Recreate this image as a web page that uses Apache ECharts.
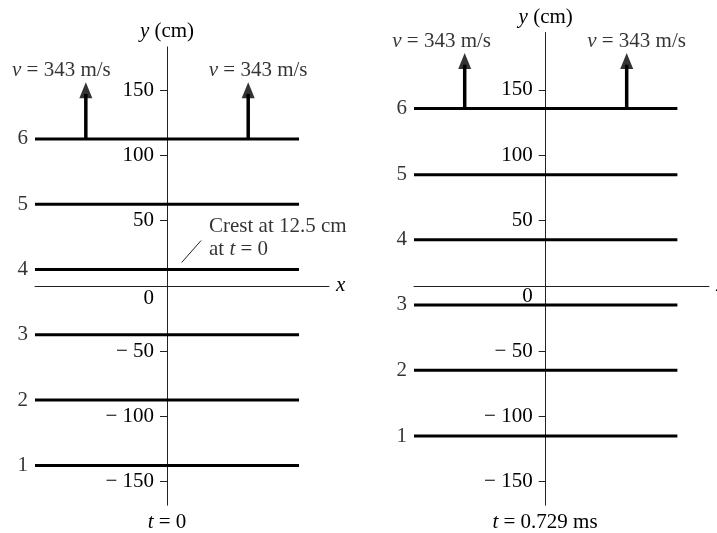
<!DOCTYPE html>
<html><head><meta charset="utf-8">
<script src="https://cdn.jsdelivr.net/npm/echarts@6/dist/echarts.min.js"></script>
<style>html,body{margin:0;padding:0;background:#fff}#c{width:717px;height:533px}</style>
</head><body><div id="c"></div>
<script>
// ---- data ----
const crestNames = ['1', '2', '3', '4', '5', '6'];
const crestY_t0 = [-137.5, -87.5, -37.5, 12.5, 62.5, 112.5];      // cm at t = 0
const crestY_t1 = [-115, -64.6, -14.6, 35.2, 85.1, 135.8];         // cm at t = 0.729 ms
const yTickValues = [-150, -100, -50, 0, 50, 100, 150];
const arrowX = [-0.615, 0.615];
const arrowTip_t0 = [156, 156];
const arrowTip_t1 = [178.3, 178.3];
const speedTextPos_t0 = [[-0.80, 164.8], [0.69, 164.8]];
const speedTextPos_t1 = [[-0.79, 187.2], [0.69, 187.2]];
const crestNote = ['Crest at 12.5 cm', 'at {i|t} = 0'];
const crestNotePos = [[0.318, 45.4], [0.318, 27.6]];
const crestLeader = [[0.111, 17.9], [0.258, 34.7]];
const panelTitles = ['{i|t} = 0', '{i|t} = 0.729 ms'];

// ---- style ----
const FONT = 'Liberation Serif';
const FS = 21;
const INK = '#000';
const rich = { i: { fontStyle: 'italic', fontFamily: FONT, fontSize: FS, color: INK } };
const HEAD_UNITS = 9;

function fmtTick(v) {
  if (v === 0) return '{z|0}';
  return v < 0 ? '\u2212 ' + Math.abs(v) : String(v);
}

function panelSeries(g, crestY, arrowTip, speedPos, withNote) {
  const s = [];
  crestY.forEach((y) => {
    s.push({ type: 'line', xAxisIndex: g, yAxisIndex: g, data: [[-1, y], [1, y]],
      showSymbol: false, symbol: 'none', lineStyle: { color: INK, width: 3 }, z: 3, silent: true });
  });
  s.push({ type: 'scatter', xAxisIndex: g, yAxisIndex: g, clip: false, symbolSize: 0,
    data: crestY.map((y, i) => ({ value: [-1, y], name: crestNames[i] })),
    label: { show: true, position: 'left', distance: 7, formatter: p => p.name,
      fontFamily: FONT, fontSize: FS, color: INK } });
  arrowX.forEach((x, i) => {
    s.push({ type: 'line', xAxisIndex: g, yAxisIndex: g,
      data: [[x, crestY[crestY.length - 1]], [x, arrowTip[i] - HEAD_UNITS]],
      showSymbol: false, symbol: 'none', lineStyle: { color: INK, width: 3.5, cap: 'butt' }, z: 4 });
  });
  s.push({ type: 'scatter', xAxisIndex: g, yAxisIndex: g, clip: false, symbol: 'triangle',
    symbolSize: [13, 16], symbolOffset: [0, '50%'], itemStyle: { color: INK }, z: 5,
    data: arrowX.map((x, i) => [x, arrowTip[i]]) });
  s.push({ type: 'scatter', xAxisIndex: g, yAxisIndex: g, clip: false, symbolSize: 0,
    data: speedPos.map(p => p),
    label: { show: true, position: 'inside', formatter: () => '{i|v} = 343 m/s', rich,
      fontFamily: FONT, fontSize: FS, color: INK } });
  if (withNote) {
    s.push({ type: 'line', xAxisIndex: g, yAxisIndex: g, data: crestLeader,
      showSymbol: false, symbol: 'none', lineStyle: { color: '#222', width: 1 } });
    s.push({ type: 'scatter', xAxisIndex: g, yAxisIndex: g, clip: false, symbolSize: 0,
      data: crestNotePos.map((p, i) => ({ value: p, name: crestNote[i] })),
      label: { show: true, position: 'right', distance: 0, formatter: p => p.name, rich,
        fontFamily: FONT, fontSize: FS, color: INK } });
  }
  return s;
}

function yAxisDef(g, min, max, zeroPad, offset) {
  return {
    gridIndex: g, type: 'value', min, max, position: 'left', offset,
    name: '{i|y} (cm)', nameLocation: 'end', nameGap: 5,
    nameTextStyle: { fontFamily: FONT, fontSize: FS, color: INK, rich },
    axisLine: { show: true, onZero: false, lineStyle: { color: '#222', width: 1 } },
    axisTick: { show: true, length: 7, customValues: [-150, -100, -50, 50, 100, 150],
      lineStyle: { color: '#222', width: 1 } },
    axisLabel: { show: true, margin: 13, customValues: yTickValues, formatter: fmtTick,
      fontFamily: FONT, fontSize: FS, color: INK,
      rich: { z: { padding: [zeroPad, 0, 0, 0], fontFamily: FONT, fontSize: FS, color: INK } } },
    splitLine: { show: false }
  };
}

function xAxisDef(g, max) {
  return {
    gridIndex: g, type: 'value', min: -1, max,
    name: 'x', nameLocation: 'end', nameGap: 7,
    nameTextStyle: { fontFamily: FONT, fontSize: FS, fontStyle: 'italic', color: INK },
    axisLine: { show: true, onZero: true, lineStyle: { color: '#222', width: 1 } },
    axisTick: { show: false }, axisLabel: { show: false }, splitLine: { show: false }
  };
}

const chart = echarts.init(document.getElementById('c'), null, { renderer: 'canvas' });
chart.setOption({
  animation: false,
  backgroundColor: '#fff',
  grid: [
    { left: 35, width: 294, top: 46.9, height: 458.3, containLabel: false, outerBoundsMode: 'none' },
    { left: 414, width: 295, top: 32.5, height: 472.7, containLabel: false, outerBoundsMode: 'none' }
  ],
  xAxis: [xAxisDef(0, 1.227), xAxisDef(1, 1.24)],
  yAxis: [yAxisDef(0, -168, 183, 26, -132), yAxisDef(1, -168, 194, 21, -131.7)],
  graphic: [
    { type: 'text', x: 167, y: 522, style: { text: panelTitles[0], align: 'center', verticalAlign: 'middle',
      fontFamily: FONT, fontSize: FS, fill: INK, rich } },
    { type: 'text', x: 545, y: 522, style: { text: panelTitles[1], align: 'center', verticalAlign: 'middle',
      fontFamily: FONT, fontSize: FS, fill: INK, rich } }
  ],
  series: [].concat(
    panelSeries(0, crestY_t0, arrowTip_t0, speedTextPos_t0, true),
    panelSeries(1, crestY_t1, arrowTip_t1, speedTextPos_t1, false)
  )
});
</script></body></html>
